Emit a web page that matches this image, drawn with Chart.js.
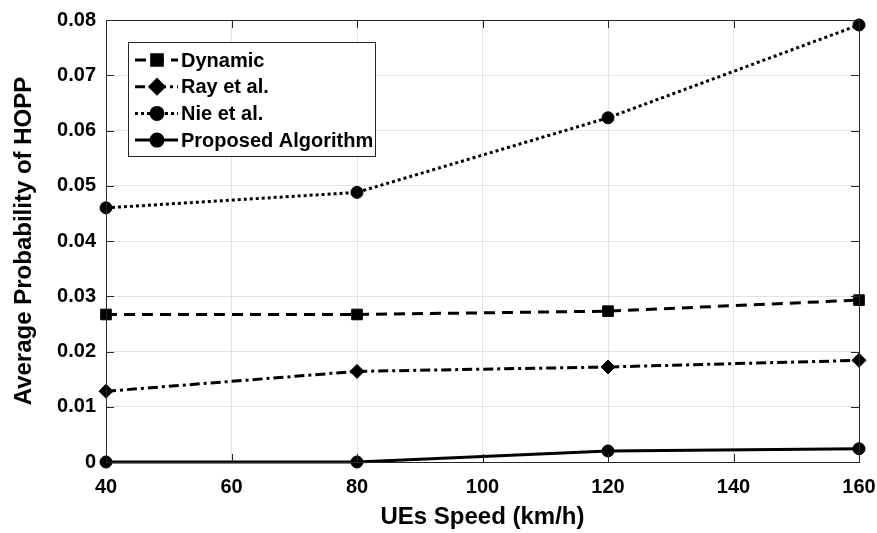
<!DOCTYPE html>
<html>
<head>
<meta charset="utf-8">
<script src="https://cdn.jsdelivr.net/npm/chart.js@4/dist/chart.umd.min.js"></script>
<style>
  html, body { margin: 0; padding: 0; background: #fff; }
  #wrap { width: 877px; height: 533px; }
</style>
</head>
<body>
<div id="wrap"><canvas id="hopp-chart" width="877" height="533"></canvas></div>
<script>
// ── Data ───────────────────────────────────────────────────────────────────
const speeds   = [40, 80, 120, 160];
const dynamic  = [0.0267, 0.0267, 0.0273, 0.0293];
const ray      = [0.0128, 0.0164, 0.0172, 0.0184];
const nie      = [0.0460, 0.0488, 0.0623, 0.0791];
const proposed = [0.0000, 0.0000, 0.0020, 0.0024];

const xTicks = [40, 60, 80, 100, 120, 140, 160];
const yTicks = [0, 0.01, 0.02, 0.03, 0.04, 0.05, 0.06, 0.07, 0.08];

const FONT = "'Liberation Sans', Arial, Helvetica, sans-serif";

const seriesMeta = [
  { label: "Dynamic",            values: dynamic,  dash: [11, 7],        point: "rect",    radius: 7.5 },
  { label: "Ray et al.",         values: ray,      dash: [10, 4, 3, 4],  point: "rectRot", radius: 7 },
  { label: "Nie et al.",         values: nie,      dash: [3, 3],         point: "circle",  radius: 6 },
  { label: "Proposed Algorithm", values: proposed, dash: [],             point: "circle",  radius: 6 },
];

// ── Box + inward ticks (MATLAB style) ──────────────────────────────────────
const boxTicks = {
  id: "boxTicks",
  afterDatasetsDraw(chart) {
    const { ctx, chartArea: a, scales } = chart;
    ctx.save();
    ctx.strokeStyle = "#262626";
    ctx.lineWidth = 1;
    ctx.setLineDash([]);
    ctx.strokeRect(a.left + 0.5, a.top + 0.5, a.right - a.left, a.bottom - a.top);
    ctx.beginPath();
    xTicks.forEach((v) => {
      const x = Math.round(scales.x.getPixelForValue(v)) + 0.5;
      ctx.moveTo(x, a.bottom); ctx.lineTo(x, a.bottom - 8);
      ctx.moveTo(x, a.top);    ctx.lineTo(x, a.top + 8);
    });
    yTicks.forEach((v) => {
      const y = Math.round(scales.y.getPixelForValue(v)) + 0.5;
      ctx.moveTo(a.left, y);  ctx.lineTo(a.left + 8, y);
      ctx.moveTo(a.right, y); ctx.lineTo(a.right - 8, y);
    });
    ctx.stroke();
    ctx.restore();
  },
};

// ── Legend inside the axes ─────────────────────────────────────────────────
const boxLegend = {
  id: "boxLegend",
  afterDraw(chart) {
    const { ctx } = chart;
    const left = 128, top = 42, w = 247, h = 114, rowH = 26.7;
    ctx.save();
    ctx.fillStyle = "#fff";
    ctx.fillRect(left, top, w, h);
    ctx.strokeStyle = "#262626";
    ctx.lineWidth = 1;
    ctx.strokeRect(left + 0.5, top + 0.5, w, h);
    chart.data.datasets.forEach((ds, i) => {
      const y = top + 18 + i * rowH;
      ctx.strokeStyle = "#000";
      ctx.lineWidth = 3;
      ctx.setLineDash(ds.borderDash);
      ctx.beginPath();
      ctx.moveTo(135, y); ctx.lineTo(178, y);
      ctx.stroke();
      ctx.setLineDash([]);
      ctx.fillStyle = "#000";
      Chart.helpers.drawPoint(ctx, {
        pointStyle: ds.pointStyle, radius: ds.pointRadius, rotation: 0, borderWidth: 1,
      }, 157, y);
      ctx.fill();
      ctx.fillStyle = "#000";
      ctx.font = `bold 20px ${FONT}`;
      ctx.textBaseline = "middle";
      ctx.fillText(ds.label, 181, y + 1);
    });
    ctx.restore();
  },
};

// ── Chart ──────────────────────────────────────────────────────────────────
const datasets = seriesMeta.map((m) => ({
  label:           m.label,
  data:            speeds.map((s, i) => ({ x: s, y: m.values[i] })),
  borderColor:     "#000",
  backgroundColor: "#000",
  borderDash:      m.dash,
  borderWidth:     3,
  pointStyle:      m.point,
  pointRadius:     m.radius,
  pointHoverRadius: m.radius,
  pointBorderWidth: 1,
  tension:         0,
  fill:            false,
  clip:            false,
}));

new Chart(document.getElementById("hopp-chart"), {
  type: "line",
  data: { datasets },
  plugins: [boxTicks, boxLegend],
  options: {
    responsive: false,
    animation: false,
    layout: { padding: { top: 20, right: 18, left: 0, bottom: 0 } },
    plugins: { legend: { display: false }, tooltip: { enabled: false } },
    scales: {
      x: {
        type: "linear",
        min: 40, max: 160,
        afterBuildTicks: (s) => { s.ticks = xTicks.map((v) => ({ value: v })); },
        afterFit: (s) => { s.height = 71; s.paddingLeft = 0; s.paddingRight = 0; },
        grid: { color: "#e3e3e3", drawTicks: false },
        border: { display: false },
        ticks: { color: "#000", padding: 13, font: { family: FONT, size: 20, weight: "bold" } },
        title: {
          display: true, text: "UEs Speed (km/h)", color: "#000",
          font: { family: FONT, size: 24, weight: "bold" }, padding: { top: 0, bottom: 1 },
        },
      },
      y: {
        min: 0, max: 0.08,
        afterBuildTicks: (s) => { s.ticks = yTicks.map((v) => ({ value: v })); },
        afterFit: (s) => { s.width = 106; s.paddingTop = 0; s.paddingBottom = 0; },
        grid: { color: "#e3e3e3", drawTicks: false },
        border: { display: false },
        ticks: {
          color: "#000", padding: 10, font: { family: FONT, size: 20, weight: "bold" },
          callback: (v) => (v === 0 ? "0" : v.toFixed(2)),
        },
        title: {
          display: true, text: "Average Probability of HOPP", color: "#000",
          font: { family: FONT, size: 24, weight: "bold" }, padding: { top: 10, bottom: 0 },
        },
      },
    },
  },
});
</script>
</body>
</html>
